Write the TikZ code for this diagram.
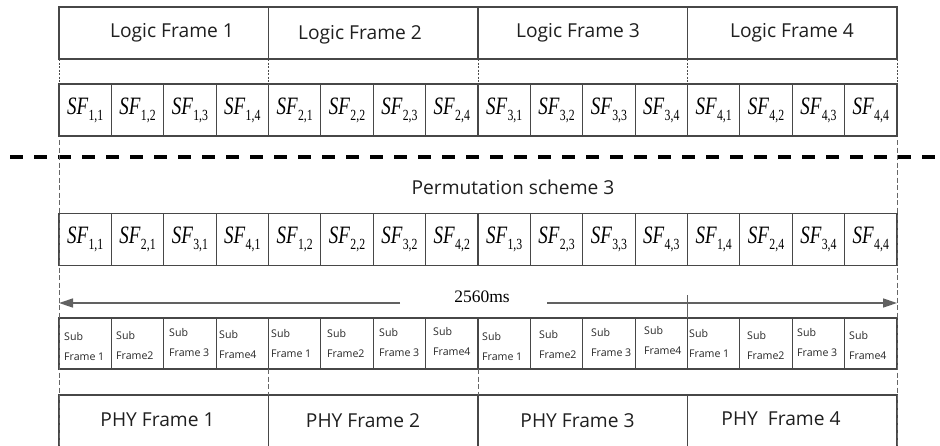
\documentclass[tikz,border=0pt]{standalone}
\usepackage{fontspec}
\setmainfont{Liberation Serif}
\newfontfamily\uisans{Open Sans}
\usetikzlibrary{arrows.meta}
% subframe label: italic SF with an upright, lowered index pair, set a little narrow
\newcommand{\sfcell}[2]{\scalebox{0.76}[1]{\fontsize{25}{25}\selectfont\textit{SF}\kern0.3pt\raisebox{-6pt}{\fontsize{15.5}{16}\selectfont #1,#2}}}
\begin{document}
\begin{tikzpicture}[x=1pt,y=-1pt,
  boxline/.style={draw=black!72, line width=1.2pt},
  cellbox/.style={boxline, minimum width=52.375pt, minimum height=52pt, inner sep=0pt, outer sep=0pt},
  framebox/.style={boxline, minimum width=209.5pt, minimum height=52pt, inner sep=0pt, outer sep=0pt},
  bigsans/.style={font=\uisans\fontsize{19.2}{21}\selectfont, text=black!88, inner sep=0pt},
  smallsans/.style={font=\uisans\fontsize{10.6}{11}\selectfont, text=black!85, inner sep=0pt, anchor=west},
  linkdot/.style={draw=black!70, line width=0.8pt, dash pattern=on 2pt off 1.5pt},
  guide/.style={draw=black!60, line width=1pt, dash pattern=on 5pt off 2.5pt},
  cutline/.style={draw=black, line width=3.6pt, dash pattern=on 13pt off 11pt},
  span/.style={draw=black!62, line width=1.4pt},
  tip/.style={-{Triangle[length=14pt,width=9pt]}}
]
\useasboundingbox (0,0) rectangle (940,445);

% ---------- logic frames ----------
\foreach \f in {1,...,4}{
  \node[framebox] (lf\f) at ({59+(\f-0.5)*209.5},33) {};
}
\node[bigsans] (lft1) at (172,33) {Logic Frame 1};
\node[bigsans] (lft2) at (360,35) {Logic Frame 2};
\node[bigsans] (lft3) at (578,33) {Logic Frame 3};
\node[bigsans] (lft4) at (792,33) {Logic Frame 4};

% ---------- subframes in logical order ----------
\foreach \k in {0,...,15}{
  \pgfmathtruncatemacro{\a}{int(\k/4)+1}
  \pgfmathtruncatemacro{\b}{mod(\k,4)+1}
  \node[cellbox] (sa\k) at ({59+(\k+0.5)*52.375},110) {\sfcell{\a}{\b}};
}
\foreach \f/\c in {1/0,2/4,3/8,4/12}{
  \draw[linkdot] (lf\f.south west) -- (sa\c.north west);
}
\draw[linkdot] (lf4.south east) -- (sa15.north east);

% ---------- cut between logical and physical views ----------
\coordinate (cutL) at (10,157);
\coordinate (cutR) at (940,157);
\draw[cutline] (cutL) -- (cutR);

\node[bigsans] (perm) at (513,187) {Permutation scheme 3};

% ---------- subframes after permutation ----------
\foreach \k in {0,...,15}{
  \pgfmathtruncatemacro{\b}{int(\k/4)+1}
  \pgfmathtruncatemacro{\a}{mod(\k,4)+1}
  \node[cellbox] (sb\k) at ({59+(\k+0.5)*52.375},239.5) {\sfcell{\a}{\b}};
}

% ---------- duration arrow ----------
\coordinate (arrL) at (59,303);
\coordinate (gapL) at (400,303);
\coordinate (gapR) at (547,303);
\coordinate (arrR) at (897,303);
\node[font=\fontsize{17.5}{18}\selectfont, inner sep=0pt] (dur) at (482,297) {2560ms};
\draw[span, tip] (gapL) -- (arrL);
\draw[span, tip] (gapR) -- (arrR);
\coordinate (tickT) at (687.5,295);

% ---------- physical subframes ----------
\foreach \k in {0,...,15}{
  \node[cellbox, minimum height=51pt] (pc\k) at ({59+(\k+0.5)*52.375},343.5) {};
}
\draw[span] (tickT) -- (pc12.north west);
\foreach \k/\x/\y/\t in {
  0/64/337/Frame 1, 1/116/336/Frame2, 2/169/333/Frame 3, 3/219/335/Frame4,
  4/271/334/Frame 1, 5/327/334/Frame2, 6/379/333/Frame 3, 7/433/332/Frame4,
  8/482/337/Frame 1, 9/539/335/Frame2, 10/591/333/Frame 3, 11/644/331/Frame4,
  12/689/334/Frame 1, 13/747/336/Frame2, 14/797/333/Frame 3, 15/849/336/Frame4}{
  \node[smallsans] (sub\k) at (\x,\y) {Sub};
  \node[smallsans] (frm\k) at (\x,\y+20) {\t};
}

% ---------- physical frames (open at the bottom) ----------
\foreach \f in {1,...,4}{
  \coordinate (pf\f a) at ({59+(\f-1)*209.5},395);
  \coordinate (pf\f b) at ({59+\f*209.5},395);
  \coordinate (pf\f c) at ({59+\f*209.5},446);
  \coordinate (pf\f d) at ({59+(\f-1)*209.5},446);
  \draw[boxline] (pf\f d) -- (pf\f a) -- (pf\f b) -- (pf\f c);
}
\node[bigsans] (pft1) at (157.5,420) {PHY Frame 1};
\node[bigsans] (pft2) at (363,421) {PHY Frame 2};
\node[bigsans] (pft3) at (577.5,421) {PHY Frame 3};
\node[bigsans] (pft4) at (781,419) {PHY\ \ Frame 4};

% ---------- dashed guides ----------
\coordinate (gL) at (59,140);
\coordinate (gR) at (897,140);
\draw[guide] (gL) -- (pf1d);
\draw[guide] (gR) -- (pf4c);
\draw[guide] (pc4.south west) -- (pf2a);
\draw[guide] (pc8.south west) -- (pf3a);
\end{tikzpicture}
\end{document}
